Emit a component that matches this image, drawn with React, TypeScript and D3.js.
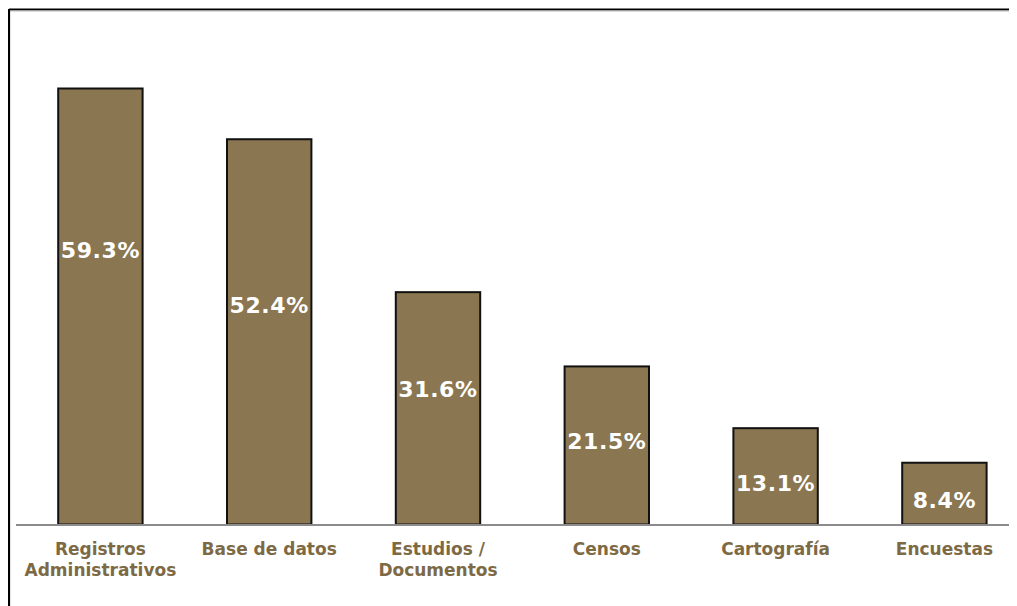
import React from "react";
import * as d3 from "d3";

const categories = [
  ["Registros", "Administrativos"],
  ["Base de datos"],
  ["Estudios /", "Documentos"],
  ["Censos"],
  ["Cartografía"],
  ["Encuestas"],
];
const values = [59.3, 52.4, 31.6, 21.5, 13.1, 8.4];
// vertical position of each value label, as a fraction of the bar height from its base
const labelFrac = [0.63, 0.57, 0.585, 0.525, 0.43, 0.4];

const W = 1009;
const H = 598;
const FILL = "#8a7650";
const TEXT = "#7d6a45";

export default function App() {
  const x = d3
    .scaleBand<number>()
    .domain(d3.range(values.length))
    .range([8, 8 + 168.8 * values.length])
    .paddingInner(0.5)
    .paddingOuter(0.25);
  const y = d3.scaleLinear().domain([0, 59.3]).range([516.5, 80.5]);

  return (
    <svg width={W} height={H} style={{ display: "block" }}>
      <rect x={0} y={0} width={W} height={H} fill="#fff" />
      <line x1={1} x2={W} y1={1.5} y2={1.5} stroke="#000" strokeWidth={2.2} />
      <line x1={0} x2={W} y1={3} y2={3} stroke="#bbb" strokeWidth={1} />
      <line x1={1} x2={1} y1={1} y2={H} stroke="#000" strokeWidth={2.2} />
      {values.map((v, i) => (
        <rect
          key={i}
          x={x(i)}
          y={y(v)}
          width={x.bandwidth()}
          height={y(0) - y(v)}
          fill={FILL}
          stroke="#111"
          strokeWidth={2}
        />
      ))}
      <line x1={8} x2={W} y1={y(0) + 0.5} y2={y(0) + 0.5} stroke="#8c8c8c" strokeWidth={2} />
      {values.map((v, i) => (
        <text
          key={"v" + i}
          x={x(i)! + x.bandwidth() / 2}
          y={y(v * labelFrac[i])}
          dy="0.36em"
          textAnchor="middle"
          fill="#fff"
          fontFamily="DejaVu Sans, Verdana, sans-serif"
          fontWeight="bold"
          fontSize={22}
          letterSpacing={0.6}
        >
          {v.toFixed(1)}%
        </text>
      ))}
      {categories.map((lines, i) => (
        <text
          key={"c" + i}
          x={x(i)! + x.bandwidth() / 2}
          textAnchor="middle"
          fill={TEXT}
          fontFamily="DejaVu Sans, Verdana, sans-serif"
          fontWeight="bold"
          fontSize={17}
        >
          {lines.map((l, j) => (
            <tspan key={j} x={x(i)! + x.bandwidth() / 2} y={547 + j * 21}>
              {l}
            </tspan>
          ))}
        </text>
      ))}
    </svg>
  );
}
